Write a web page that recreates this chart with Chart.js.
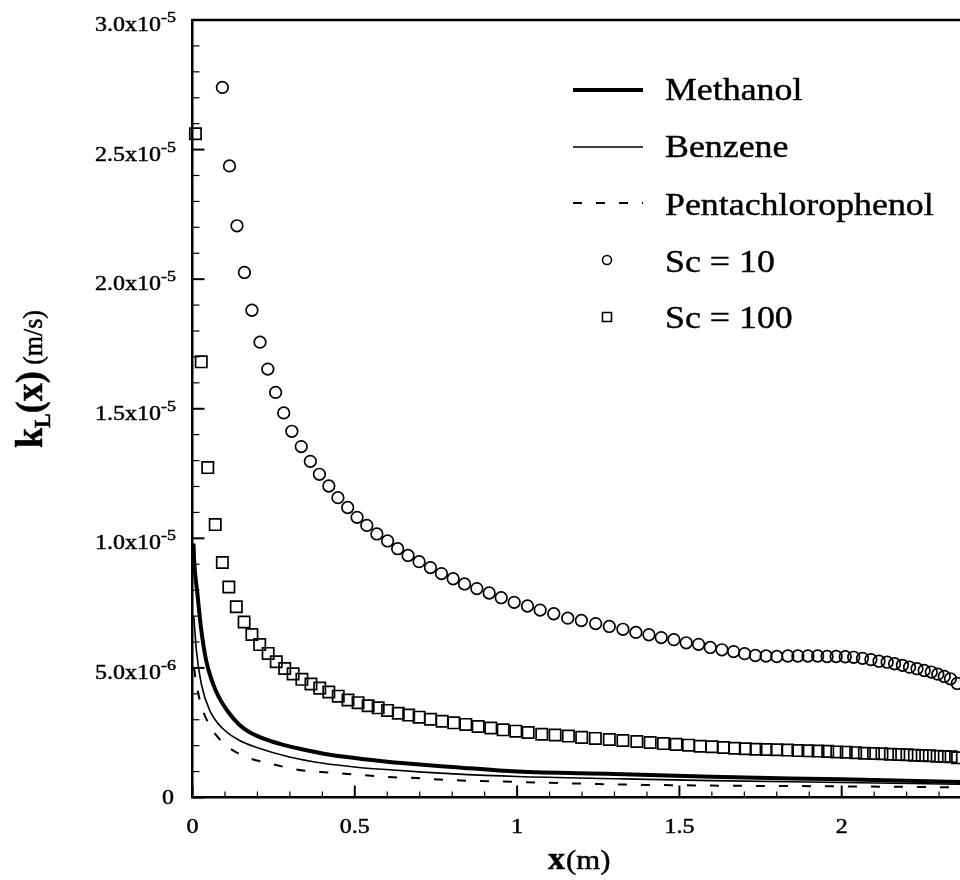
<!DOCTYPE html>
<html>
<head>
<meta charset="utf-8">
<script src="https://cdn.jsdelivr.net/npm/chart.js@4.4.1/dist/chart.umd.min.js"></script>
<style>
html,body{margin:0;padding:0;background:#fff;overflow:hidden;}
#wrap{width:1024px;height:880px;}
</style>
</head>
<body>
<div id="wrap"><canvas id="c" width="1024" height="880"></canvas></div>
<script>
// ---------- data ----------
const seriesNames = ['Methanol', 'Benzene', 'Pentachlorophenol', 'Sc = 10', 'Sc = 100'];

const methanolX = [0.003, 0.005, 0.015, 0.026, 0.042, 0.060, 0.080, 0.110, 0.145, 0.176, 0.230, 0.280, 0.330, 0.400, 0.500, 0.600, 0.700, 0.800, 1.000, 1.300, 1.600, 2.000, 2.400];
const methanolY = [0.98e-5, 0.915e-5, 0.788e-5, 0.657e-5, 0.529e-5, 0.450e-5, 0.390e-5, 0.330e-5, 0.280e-5, 0.252e-5, 0.222e-5, 0.203e-5, 0.188e-5, 0.170e-5, 0.152e-5, 0.138e-5, 0.127e-5, 0.118e-5, 0.100e-5, 0.091e-5, 0.080e-5, 0.070e-5, 0.059e-5];

const benzeneX = [0.004, 0.012, 0.027, 0.053, 0.094, 0.145, 0.196, 0.299, 0.402, 0.505, 0.607, 0.710, 0.792, 1.000, 1.330, 1.600, 2.000, 2.400];
const benzeneY = [0.700e-5, 0.568e-5, 0.439e-5, 0.336e-5, 0.265e-5, 0.220e-5, 0.194e-5, 0.156e-5, 0.132e-5, 0.117e-5, 0.107e-5, 0.098e-5, 0.092e-5, 0.081e-5, 0.072e-5, 0.065e-5, 0.058e-5, 0.050e-5];

const pentaX = [0.005, 0.010, 0.027, 0.057, 0.104, 0.171, 0.243, 0.320, 0.397, 0.469, 0.541, 0.618, 0.690, 0.762, 1.000, 1.330, 1.600, 2.000, 2.400];
const pentaY = [0.500e-5, 0.452e-5, 0.355e-5, 0.270e-5, 0.201e-5, 0.154e-5, 0.130e-5, 0.108e-5, 0.098e-5, 0.092e-5, 0.085e-5, 0.078e-5, 0.075e-5, 0.069e-5, 0.060e-5, 0.050e-5, 0.046e-5, 0.043e-5, 0.039e-5];

const sc10X = [0.092,0.114,0.137,0.160,0.183,0.208,0.232,0.256,0.281,0.306,
  0.335,0.363,0.391,0.420,0.448,0.478,0.507,0.537,0.568,0.601,
  0.632,0.664,0.698,0.733,0.767,0.803,0.838,0.876,0.914,0.951,
  0.991,1.032,1.071,1.113,1.156,1.198,1.242,1.284,1.326,1.366,
  1.406,1.444,1.483,1.521,1.559,1.595,1.631,1.667,1.701,1.734,
  1.767,1.800,1.834,1.865,1.896,1.926,1.955,1.983,2.011,2.037,
  2.064,2.090,2.115,2.140,2.163,2.187,2.209,2.232,2.254,2.276,
  2.296,2.316,2.335,2.356];
const sc10Y = [2.740e-5,2.437e-5,2.206e-5,2.026e-5,1.880e-5,1.757e-5,1.653e-5,1.563e-5,1.484e-5,1.413e-5,
  1.354e-5,1.297e-5,1.247e-5,1.202e-5,1.157e-5,1.119e-5,1.081e-5,1.050e-5,1.017e-5,0.990e-5,
  0.960e-5,0.934e-5,0.910e-5,0.887e-5,0.864e-5,0.844e-5,0.824e-5,0.806e-5,0.789e-5,0.771e-5,
  0.753e-5,0.739e-5,0.723e-5,0.709e-5,0.692e-5,0.683e-5,0.671e-5,0.660e-5,0.649e-5,0.637e-5,
  0.628e-5,0.617e-5,0.609e-5,0.597e-5,0.591e-5,0.579e-5,0.570e-5,0.563e-5,0.555e-5,0.548e-5,
  0.546e-5,0.544e-5,0.546e-5,0.546e-5,0.546e-5,0.546e-5,0.544e-5,0.544e-5,0.543e-5,0.541e-5,
  0.537e-5,0.532e-5,0.526e-5,0.522e-5,0.516e-5,0.510e-5,0.503e-5,0.497e-5,0.490e-5,0.484e-5,
  0.476e-5,0.467e-5,0.458e-5,0.440e-5];

const sc100X = [0.009,0.027,0.047,0.070,0.092,0.112,0.135,0.159,0.183,0.207,
  0.233,0.258,0.284,0.310,0.337,0.365,0.392,0.420,0.449,0.479,
  0.510,0.541,0.572,0.601,0.634,0.666,0.698,0.733,0.769,0.805,
  0.842,0.880,0.919,0.957,0.996,1.034,1.076,1.117,1.158,1.199,
  1.241,1.284,1.326,1.369,1.410,1.451,1.490,1.528,1.564,1.600,
  1.636,1.670,1.703,1.736,1.767,1.800,1.833,1.865,1.896,1.927,
  1.957,1.985,2.014,2.043,2.070,2.098,2.124,2.150,2.176,2.201,
  2.224,2.248,2.270,2.294,2.316,2.337,2.357];
const sc100Y = [2.561e-5,1.681e-5,1.273e-5,1.053e-5,0.907e-5,0.812e-5,0.736e-5,0.677e-5,0.629e-5,0.590e-5,
  0.556e-5,0.524e-5,0.498e-5,0.477e-5,0.456e-5,0.438e-5,0.422e-5,0.407e-5,0.391e-5,0.376e-5,
  0.366e-5,0.354e-5,0.346e-5,0.336e-5,0.325e-5,0.318e-5,0.310e-5,0.302e-5,0.294e-5,0.288e-5,
  0.282e-5,0.274e-5,0.268e-5,0.261e-5,0.256e-5,0.251e-5,0.244e-5,0.241e-5,0.237e-5,0.232e-5,
  0.228e-5,0.224e-5,0.220e-5,0.216e-5,0.212e-5,0.208e-5,0.205e-5,0.202e-5,0.198e-5,0.196e-5,
  0.193e-5,0.190e-5,0.188e-5,0.186e-5,0.185e-5,0.184e-5,0.183e-5,0.181e-5,0.180e-5,0.179e-5,
  0.178e-5,0.176e-5,0.175e-5,0.173e-5,0.171e-5,0.170e-5,0.169e-5,0.167e-5,0.166e-5,0.165e-5,
  0.163e-5,0.162e-5,0.161e-5,0.159e-5,0.158e-5,0.157e-5,0.153e-5];

const xTickValues = [0, 0.5, 1, 1.5, 2, 2.5];
const xTickLabels = ['0', '0.5', '1', '1.5', '2', '2.5'];
const yTickValues = [0, 5e-6, 1e-5, 1.5e-5, 2e-5, 2.5e-5, 3e-5];
const yTickBase = ['0', '5.0x10', '1.0x10', '1.5x10', '2.0x10', '2.5x10', '3.0x10'];
const yTickExp = ['', '-6', '-5', '-5', '-5', '-5', '-5'];
const xMinorStep = 0.1;
const yMinorStep = 1e-6;

// ---------- helpers ----------
const zip = (xs, ys) => xs.map((x, i) => ({x: x, y: ys[i]}));
const SERIF = '"Liberation Serif", "Times New Roman", serif';

function measure(ctx, s, font, sx) {
  ctx.save(); ctx.font = font; const w = ctx.measureText(s).width * sx; ctx.restore(); return w;
}
function text(ctx, s, x, y, font, sx) {
  ctx.save(); ctx.font = font; ctx.textAlign = 'left'; ctx.textBaseline = 'alphabetic';
  ctx.translate(x, y); ctx.scale(sx, 1);
  ctx.fillStyle = '#000'; ctx.strokeStyle = '#000'; ctx.lineWidth = 0.45;
  ctx.fillText(s, 0, 0); ctx.strokeText(s, 0, 0); ctx.restore();
  return measure(ctx, s, font, sx);
}

const overlay = {
  id: 'overlay',
  afterDraw(chart) {
    const ctx = chart.ctx, xs = chart.scales.x, ys = chart.scales.y, a = chart.chartArea;
    ctx.save();
    ctx.strokeStyle = '#000'; ctx.fillStyle = '#000';
    // top frame line
    ctx.lineWidth = 2.5;
    ctx.beginPath(); ctx.moveTo(a.left - 1.25, a.top); ctx.lineTo(a.right, a.top); ctx.stroke();
    // x ticks (inward)
    const nx = Math.round((xs.max - xs.min) / xMinorStep);
    for (let i = 0; i <= nx; i++) {
      const px = xs.getPixelForValue(xs.min + i * xMinorStep);
      const major = i % 5 === 0;
      ctx.lineWidth = major ? 2 : 1.2;
      ctx.beginPath(); ctx.moveTo(px, a.bottom); ctx.lineTo(px, a.bottom - (major ? 12 : 6)); ctx.stroke();
    }
    // y ticks (inward)
    const ny = Math.round((ys.max - ys.min) / yMinorStep);
    for (let i = 0; i <= ny; i++) {
      const py = ys.getPixelForValue(ys.min + i * yMinorStep);
      const major = i % 5 === 0;
      ctx.lineWidth = major ? 2 : 1.2;
      ctx.beginPath(); ctx.moveTo(a.left, py); ctx.lineTo(a.left + (major ? 12 : 7), py); ctx.stroke();
    }
    // x tick labels
    const TSX = 1.2;
    const tf = '20px ' + SERIF;
    xTickValues.forEach((v, i) => {
      const px = xs.getPixelForValue(v);
      const w = measure(ctx, xTickLabels[i], tf, TSX);
      text(ctx, xTickLabels[i], px - w / 2, a.bottom + 35, tf, TSX);
    });
    // y tick labels with superscript exponent
    const ef = '15px ' + SERIF;
    const right = 176;
    yTickValues.forEach((v, i) => {
      const py = ys.getPixelForValue(v);
      const base = yTickBase[i], ex = yTickExp[i];
      if (!ex) {
        const w = measure(ctx, base, tf, TSX);
        text(ctx, base, right - 2 - w, py + 6.5, tf, TSX);
      } else {
        const we = measure(ctx, ex, ef, TSX);
        const wb = measure(ctx, base, tf, TSX);
        text(ctx, base, right - we - wb, py + 11, tf, TSX);
        text(ctx, ex, right - we, py + 2, ef, TSX);
      }
    });
    // x axis title: bold x + (m)
    let cx = 548;
    cx += text(ctx, 'x', cx, 869, 'bold 31px ' + SERIF, 1.1);
    text(ctx, '(m)', cx + 1, 869, '28px ' + SERIF, 1.1);
    // y axis title (rotated)
    const parts = [
      {s: 'k', f: 'bold 36px ' + SERIF, dy: 0},
      {s: 'L', f: 'bold 22px ' + SERIF, dy: 7},
      {s: '(x)', f: 'bold 36px ' + SERIF, dy: 0},
      {s: ' (m/s)', f: '26px ' + SERIF, dy: 0}
    ];
    let total = 0;
    parts.forEach(p => { total += measure(ctx, p.s, p.f, 1); });
    ctx.save();
    ctx.translate(42, 379 + total / 2);
    ctx.rotate(-Math.PI / 2);
    ctx.scale(1, 1.08);
    let lx = 0;
    parts.forEach(p => {
      ctx.font = p.f; ctx.textBaseline = 'alphabetic'; ctx.textAlign = 'left';
      ctx.lineWidth = 0.45;
      ctx.fillText(p.s, lx, p.dy); ctx.strokeText(p.s, lx, p.dy);
      lx += ctx.measureText(p.s).width;
    });
    ctx.restore();
    // legend
    const lineY = [90, 147, 203, 260, 317];
    const textY = [100, 157, 215, 272, 328];
    const lf = '32px ' + SERIF;
    chart.data.datasets.forEach((ds, i) => {
      const y = lineY[i];
      ctx.save();
      ctx.strokeStyle = '#000';
      if (ds.showLine) {
        ctx.lineWidth = ds.borderWidth;
        ctx.setLineDash(ds.borderDash || []);
        ctx.beginPath(); ctx.moveTo(573, y); ctx.lineTo(643, y); ctx.stroke();
      } else {
        ctx.lineWidth = 1.6;
        ctx.beginPath();
        if (ds.pointStyle === 'circle') ctx.arc(607, y, 4.5, 0, Math.PI * 2);
        else ctx.rect(602.5, y - 4.5, 9, 9);
        ctx.stroke();
      }
      ctx.restore();
      text(ctx, ds.label, 665, textY[i], lf, 1.12);
    });
    ctx.restore();
  }
};

const lineBase = {showLine: true, pointRadius: 0, borderColor: '#000', backgroundColor: '#000', cubicInterpolationMode: 'monotone', clip: false};
const markBase = {showLine: false, borderColor: '#000', backgroundColor: 'rgba(0,0,0,0)', pointBorderWidth: 1.7, clip: false};

new Chart(document.getElementById('c'), {
  type: 'scatter',
  data: {
    datasets: [
      Object.assign({label: seriesNames[0], data: zip(methanolX, methanolY), borderWidth: 4}, lineBase),
      Object.assign({label: seriesNames[1], data: zip(benzeneX, benzeneY), borderWidth: 1.6}, lineBase),
      Object.assign({label: seriesNames[2], data: zip(pentaX, pentaY), borderWidth: 2, borderDash: [9, 14]}, lineBase),
      Object.assign({label: seriesNames[3], data: zip(sc10X, sc10Y), pointStyle: 'circle', pointRadius: 5.8}, markBase),
      Object.assign({label: seriesNames[4], data: zip(sc100X, sc100Y), pointStyle: 'rect', pointRadius: 8}, markBase)
    ]
  },
  options: {
    responsive: false,
    animation: false,
    events: [],
    devicePixelRatio: 1,
    layout: {padding: {left: 0, top: 20, right: 20, bottom: 0}},
    plugins: {legend: {display: false}, tooltip: {enabled: false}},
    scales: {
      x: {
        type: 'linear', min: 0, max: 2.5,
        grid: {display: false},
        border: {display: true, color: '#000', width: 2.5},
        ticks: {display: false, stepSize: 0.5},
        afterFit: s => { s.height = 82.5; }
      },
      y: {
        type: 'linear', min: 0, max: 3e-5,
        grid: {display: false},
        border: {display: true, color: '#000', width: 2.5},
        ticks: {display: false, stepSize: 5e-6},
        afterFit: s => { s.width = 192.5; }
      }
    }
  },
  plugins: [overlay]
});
</script>
</body>
</html>
